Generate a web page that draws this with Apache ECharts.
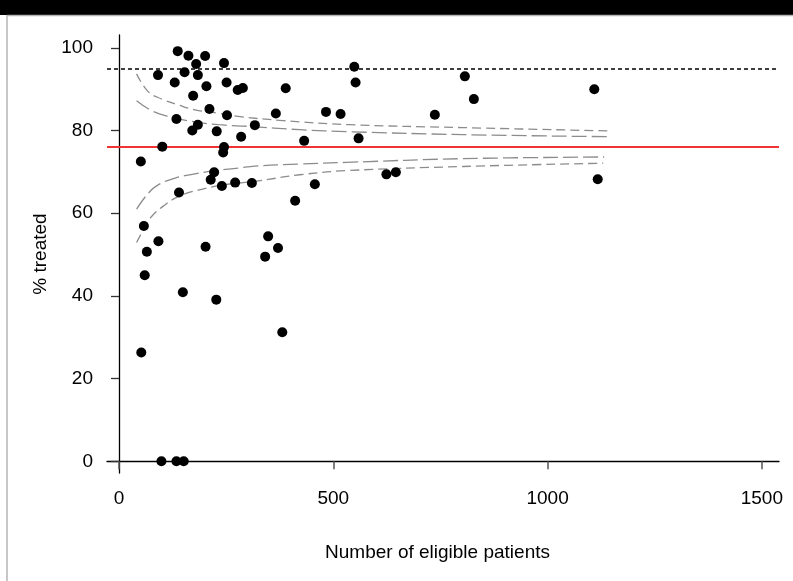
<!DOCTYPE html>
<html>
<head>
<meta charset="utf-8">
<script src="https://cdn.jsdelivr.net/npm/echarts@6/dist/echarts.min.js"></script>
<style>
  html, body { margin: 0; padding: 0; background: #fff; }
  #chart { width: 793px; height: 581px; }
</style>
</head>
<body>
<div id="chart"></div>
<script>
// Hospitals: number of eligible patients and percentage treated
const eligiblePatients = [
  137, 162, 201, 180, 245, 91, 153, 184, 130, 251, 204, 277, 289, 389, 173, 211,
  252, 366, 483, 517, 134, 184, 171, 228, 317, 285, 432, 101, 245, 243, 51, 222,
  214, 240, 271, 310, 457, 140, 411, 58, 92, 65, 202, 348, 371, 341, 60, 149,
  227, 381, 52, 99, 134, 151, 549, 552, 807, 828, 1109, 737, 559, 624, 646, 1117
];
const percentTreated = [
  99.2, 98.1, 98.0, 96.1, 96.3, 93.4, 94.1, 93.4, 91.6, 91.6, 90.7, 89.8, 90.3, 90.2, 88.4, 85.2,
  83.7, 84.1, 84.5, 84.0, 82.8, 81.4, 80.0, 79.8, 81.3, 78.5, 77.5, 76.1, 76.0, 74.7, 72.5, 69.9,
  68.1, 66.6, 67.4, 67.3, 67.0, 65.0, 63.0, 56.9, 53.2, 50.7, 51.9, 54.4, 51.6, 49.5, 45.0, 40.9,
  39.1, 31.2, 26.3, 0, 0, 0, 95.4, 91.6, 93.1, 87.6, 90.0, 83.8, 78.1, 69.4, 69.9, 68.2
];

// Overall proportion and target
const overallPercent = 76;
const targetPercent = 95;

// Control limits around the overall proportion
const upper998N = [41, 68, 100, 138, 177, 232, 278, 383, 539, 803, 1142];
const upper998V = [93.7, 89.4, 87.6, 86.2, 85.0, 84.2, 83.4, 82.4, 81.4, 80.7, 79.9];
const upper95N = [41, 76, 115, 170, 232, 302, 422, 539, 803, 1142];
const upper95V = [87.2, 84.8, 83.4, 82.2, 81.4, 81.0, 80.2, 79.7, 79.0, 78.5];
const lower95N = [41, 68, 92, 131, 177, 224, 278, 317, 422, 531, 803, 1132];
const lower95V = [61.0, 64.8, 66.9, 68.5, 69.5, 70.3, 70.9, 71.4, 71.9, 72.3, 73.2, 73.6];
const lower998N = [41, 57, 76, 107, 138, 185, 247, 317, 422, 531, 803, 1130];
const lower998V = [52.9, 56.0, 59.2, 62.0, 64.0, 65.6, 66.9, 67.7, 69.3, 70.3, 71.3, 72.1];

// Axis ticks
const xTicks = [0, 500, 1000, 1500];
const yTicks = [0, 20, 40, 60, 80, 100];

const pairs = (xs, ys) => xs.map((x, i) => [x, ys[i]]);

const FONT = '"Liberation Sans", Arial, sans-serif';
const limitColor = '#8c8c8c';

function limitSeries(name, xs, ys, dash) {
  return {
    name: name,
    type: 'line',
    data: pairs(xs, ys),
    showSymbol: false,
    smooth: 0.4,
    silent: true,
    z: 2,
    lineStyle: { color: limitColor, width: 1.3, type: dash }
  };
}

const chart = echarts.init(document.getElementById('chart'), null, { renderer: 'canvas' });

chart.setOption({
  backgroundColor: '#ffffff',
  animation: false,
  graphic: [
    { type: 'rect', shape: { x: 0, y: 0, width: 793, height: 15 }, style: { fill: '#000' }, z: 10 },
    { type: 'line', shape: { x1: 7, y1: 15.5, x2: 793, y2: 15.5 }, style: { stroke: '#b4b4b4', lineWidth: 1.5 }, z: 10 },
    { type: 'line', shape: { x1: 7, y1: 15, x2: 7, y2: 581 }, style: { stroke: '#b4b4b4', lineWidth: 1.5 }, z: 10 }
  ],
  grid: { left: 107, right: 14, top: 35, bottom: 108, containLabel: false },
  xAxis: {
    type: 'value',
    min: -28,
    max: 1540,
    name: 'Number of eligible patients',
    nameLocation: 'middle',
    nameGap: 70,
    nameTextStyle: { fontFamily: FONT, fontSize: 19, color: '#000', padding: [0, 11, 0, 0] },
    axisLine: { show: true, lineStyle: { color: '#000', width: 1.3 } },
    axisTick: { show: true, customValues: xTicks, length: 8, lineStyle: { color: '#555', width: 1.5 } },
    axisLabel: {
      customValues: xTicks, fontFamily: FONT, fontSize: 19, color: '#000', margin: 16,
      formatter: v => String(v)
    },
    splitLine: { show: false }
  },
  yAxis: {
    type: 'value',
    min: -2.83,
    max: 103.1,
    name: '% treated',
    nameLocation: 'middle',
    nameGap: 56,
    nameRotate: 90,
    nameTextStyle: { fontFamily: FONT, fontSize: 19, color: '#000' },
    axisLine: { show: true, lineStyle: { color: '#000', width: 1.3 } },
    axisTick: { show: true, customValues: yTicks, length: 8, lineStyle: { color: '#333', width: 1.3 } },
    axisLabel: {
      customValues: yTicks, fontFamily: FONT, fontSize: 19, color: '#000', margin: 14,
      formatter: v => String(v)
    },
    splitLine: { show: false }
  },
  series: [
    limitSeries('Upper 99.8%', upper998N, upper998V, [9, 5]),
    limitSeries('Upper 95%', upper95N, upper95V, [15, 5]),
    limitSeries('Lower 95%', lower95N, lower95V, [15, 5]),
    limitSeries('Lower 99.8%', lower998N, lower998V, [9, 5]),
    {
      name: 'Reference',
      type: 'line',
      data: [],
      silent: true,
      markLine: {
        silent: true,
        symbol: 'none',
        label: { show: false },
        data: [
          { yAxis: overallPercent, lineStyle: { color: '#f03434', width: 2, type: 'solid' } },
          { yAxis: targetPercent, lineStyle: { color: '#000', width: 1.5, type: [4, 3] } }
        ]
      }
    },
    {
      name: 'Hospitals',
      type: 'scatter',
      data: pairs(eligiblePatients, percentTreated),
      symbol: 'circle',
      symbolSize: 10,
      z: 5,
      itemStyle: { color: '#000', opacity: 1 }
    }
  ]
});
</script>
</body>
</html>
